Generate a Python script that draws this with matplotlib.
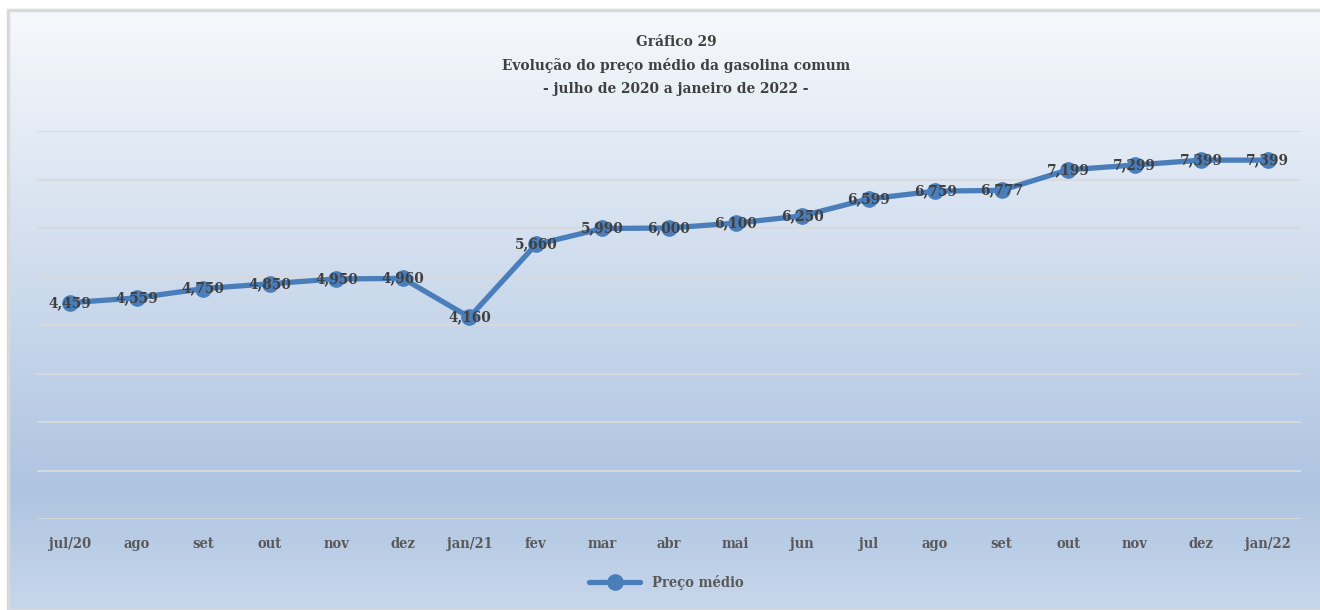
import numpy as np
import matplotlib
matplotlib.use('Agg')
import matplotlib.pyplot as plt
from matplotlib.colors import LinearSegmentedColormap
from matplotlib.patches import Rectangle

meses = ['jul/20', 'ago', 'set', 'out', 'nov', 'dez', 'jan/21', 'fev', 'mar', 'abr',
         'mai', 'jun', 'jul', 'ago', 'set', 'out', 'nov', 'dez', 'jan/22']
preco = [4.459, 4.559, 4.750, 4.850, 4.950, 4.960, 4.160, 5.660, 5.990, 6.000,
         6.100, 6.250, 6.599, 6.759, 6.777, 7.199, 7.299, 7.399, 7.399]

titulo = 'Gráfico 29\nEvolução do preço médio da gasolina comum\n- julho de 2020 a janeiro de 2022 -'

fonte = dict(family='DejaVu Serif', stretch='condensed', weight='bold')

fig = plt.figure(figsize=(13.2, 6.1), dpi=100)

# fundo com gradiente
bg = fig.add_axes([0, 0, 1, 1], zorder=-2)
cmap = LinearSegmentedColormap.from_list('fundo', [(0, '#f6f9fc'), (0.8, '#aec4e1'), (1, '#c7d7eb')])
grad = np.linspace(0, 1, 256).reshape(-1, 1)
bg.imshow(grad, cmap=cmap, aspect='auto', extent=[8/1320, 1, 0, 600/610], origin='upper')
bg.add_patch(Rectangle((8/1320, 0), 1.1, 600/610, fill=False, edgecolor='#d9d9d9', lw=2.5))
bg.set_xlim(0, 1)
bg.set_ylim(0, 1)
bg.axis('off')

ax = fig.add_axes([37/1320, 91/610, 1264/1320, 388/610])
ax.patch.set_alpha(0)
x = np.arange(len(meses))
ax.plot(x, preco, color='#4a7ebb', lw=3.8, marker='o', markersize=11,
        solid_capstyle='round', label='Preço médio', zorder=3)

for xi, v in zip(x, preco):
    ax.text(xi, v, f'{v:.3f}'.replace('.', ','), ha='center', va='center',
            fontsize=11, color='#404040', zorder=4, **fonte)

ax.set_xlim(-0.5, len(meses) - 0.5)
ax.set_ylim(0, 8)
ax.set_yticks(range(0, 9))
ax.grid(axis='y', color='#d9d9d9', lw=1.3)
ax.tick_params(axis='y', left=False, labelleft=False)
ax.tick_params(axis='x', length=0, pad=13)
ax.set_xticks(x)
ax.set_xticklabels(meses, color='#595959', fontsize=10.5, **fonte)
for s in ax.spines.values():
    s.set_visible(False)

fig.text(0.512, 0.943, titulo, ha='center', va='top', fontsize=11, color='#404040',
         linespacing=1.8, **fonte)

leg = fig.legend(loc='center', bbox_to_anchor=(0.505, 0.045), frameon=False,
                 prop=dict(size=10.5, **fonte), handlelength=3.5)
for t in leg.get_texts():
    t.set_color('#595959')

fig.savefig('out.png', dpi=100)
